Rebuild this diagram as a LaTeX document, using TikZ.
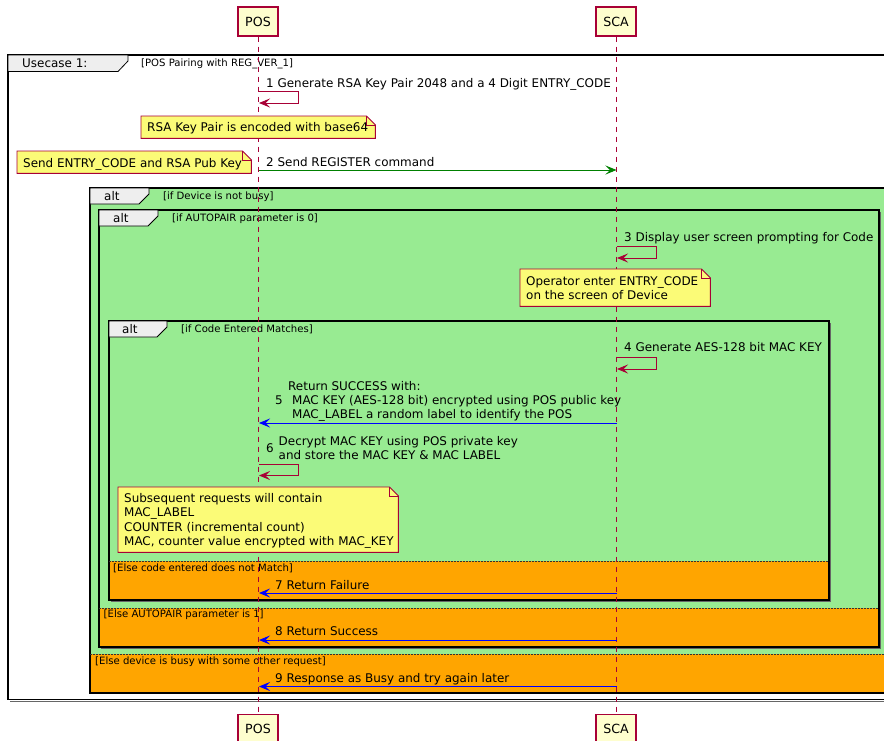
\documentclass[tikz,border=0pt]{standalone}
\usepackage{fontspec}
\setmainfont{DejaVu Sans}
\usetikzlibrary{arrows.meta}
\definecolor{lifered}{HTML}{A80036}
\definecolor{partfill}{HTML}{FEFECE}
\definecolor{notefill}{HTML}{FBFB77}
\definecolor{altgreen}{HTML}{98EB92}
\definecolor{altorange}{HTML}{FFA500}
\definecolor{tabgray}{HTML}{EEEEEE}
\definecolor{msggreen}{HTML}{008000}
\definecolor{msgblue}{HTML}{0000FF}
\newcommand\notefold[1]{%
  \draw[draw=lifered, line width=0.9pt, fill=notefill]
    (#1.north west) -- ([xshift=-9pt]#1.north east) -- ([yshift=-9pt]#1.north east)
    -- (#1.south east) -- (#1.south west) -- cycle;
  \draw[draw=lifered, line width=0.9pt]
    ([xshift=-9pt]#1.north east) -- ([xshift=-9pt,yshift=-9pt]#1.north east) -- ([yshift=-9pt]#1.north east);}
\tikzset{
  msgfont/.style={font=\fontsize{11.95}{14}\selectfont},
  condfont/.style={font=\fontsize{10.1}{12}\selectfont},
  part/.style={draw=lifered, line width=1.2pt, fill=partfill, minimum width=40pt, minimum height=29pt, inner sep=0pt, font=\fontsize{12.6}{15}\selectfont},
  lifeline/.style={draw=lifered, line width=0.9pt, dash pattern=on 5pt off 5pt},
  lbl/.style={msgfont, anchor=base west, inner sep=0pt},
  cond/.style={condfont, anchor=base west, inner sep=0pt},
  tip/.style={-{Stealth[length=11pt, width=9pt, inset=4.5pt]}},
  selfmsg/.style={tip, draw=lifered, line width=0.9pt},
  greenmsg/.style={tip, draw=msggreen, line width=0.9pt},
  bluemsg/.style={tip, draw=msgblue, line width=0.9pt},
  frameline/.style={draw=black, line width=1.6pt},
  shadowline/.style={draw=black!60, line width=1.4pt},
  sepline/.style={draw=black!80, line width=0.9pt, dash pattern=on 1.5pt off 1.5pt},
  tabshape/.style={draw=black, line width=0.8pt, fill=tabgray},
  notetext/.style={msgfont, align=left, inner xsep=6pt, inner ysep=0pt, anchor=north west},
}
\begin{document}
\begin{tikzpicture}[x=1pt, y=-1pt]
\useasboundingbox (0,0) rectangle (884,740);
\clip (0,0) rectangle (884,740);

% ---------------- frames ----------------
% outer usecase frame
\draw[shadowline] (10,701.5) -- (892,701.5);
\draw[frameline, fill=white] (8,55) rectangle (895,699.5);
\draw[tabshape] (8,55) -- (128,55) -- (128,61) -- (118,71.5) -- (8,71.5) -- cycle;
\node[lbl] (uc) at (22,67.5) {Usecase 1:};
\node[cond] (ucc) at (141,66) {[POS Pairing with REG\_VER\_1]};

% alt 1
\fill[altgreen] (90,188) rectangle (895,654);
\fill[altorange] (90,654) rectangle (895,693);
\draw[frameline] (90,188) rectangle (895,693);
\draw[sepline] (90,654) -- (895,654);
% alt 2
\fill[altgreen] (99,210) rectangle (879,608);
\fill[altorange] (99,608) rectangle (879,647);
\draw[shadowline] (880.5,212) -- (880.5,648.5) -- (101,648.5);
\draw[frameline] (99,210) rectangle (879,647);
\draw[sepline] (99,608) -- (879,608);
% alt 3
\fill[altgreen] (109,321) rectangle (829,561);
\fill[altorange] (109,561) rectangle (829,600);
\draw[shadowline] (830.5,323) -- (830.5,601.5) -- (111,601.5);
\draw[frameline] (109,321) rectangle (829,600);
\draw[sepline] (109,561) -- (829,561);

% tabs
\draw[tabshape] (90,188) -- (149,188) -- (149,194) -- (139,204) -- (90,204) -- cycle;
\node[lbl] (a1) at (104,200.5) {alt};
\node[cond] (a1c) at (163,199) {[if Device is not busy]};
\draw[tabshape] (99,210) -- (158,210) -- (158,216) -- (148,226) -- (99,226) -- cycle;
\node[lbl] (a2) at (113,222.5) {alt};
\node[cond] (a2c) at (172,221) {[if AUTOPAIR parameter is 0]};
\draw[tabshape] (109,321) -- (167,321) -- (167,327) -- (157,337) -- (109,337) -- cycle;
\node[lbl] (a3) at (122,333.5) {alt};
\node[cond] (a3c) at (181,332) {[if Code Entered Matches]};
\node[cond] (e3) at (113,571) {[Else code entered does not Match]};
\node[cond] (e2) at (103.5,617.5) {[Else AUTOPAIR parameter is 1]};
\node[cond] (e1) at (95,664) {[Else device is busy with some other request]};

% ---------------- participants & lifelines ----------------
\node[part] (posT) at (258,21.5) {POS};
\node[part] (scaT) at (616,21.5) {SCA};
\node[part] (posB) at (258,729) {POS};
\node[part] (scaB) at (616,729) {SCA};
\draw[lifeline] (posT.south) -- (posB.north);
\draw[lifeline] (scaT.south) -- (scaB.north);

% lifeline anchor points
\coordinate (p1) at (259,91);   \coordinate (p1r) at (259,103);
\coordinate (p2) at (259,170);  \coordinate (s2) at (616.5,170);
\coordinate (s3) at (617,246);  \coordinate (s3r) at (617,258);
\coordinate (s4) at (617,357);  \coordinate (s4r) at (617,369);
\coordinate (s5) at (617,423);  \coordinate (p5) at (259,423);
\coordinate (p6) at (259,464);  \coordinate (p6r) at (259,475.5);
\coordinate (s7) at (617,593);  \coordinate (p7) at (259,593);
\coordinate (s8) at (617,640);  \coordinate (p8) at (259,640);
\coordinate (s9) at (617,686.5);\coordinate (p9) at (259,686.5);

% ---------------- messages ----------------
\node[lbl] (m1) at (266,87.5) {1 Generate RSA Key Pair 2048 and a 4 Digit ENTRY\_CODE};
\draw[selfmsg] (p1) -- ++(39,0) -- ++(0,12) -- (p1r);

\node[lbl] (m2) at (266,166.5) {2 Send REGISTER command};
\draw[greenmsg] (p2) -- (s2);

\node[lbl] (m3) at (624,241) {3 Display user screen prompting for Code};
\draw[selfmsg] (s3) -- ++(39,0) -- ++(0,12) -- (s3r);

\node[lbl] (m4) at (624,351.5) {4 Generate AES-128 bit MAC KEY};
\draw[selfmsg] (s4) -- ++(39,0) -- ++(0,12) -- (s4r);

\node[lbl] (m5a) at (288,390) {Return SUCCESS with:};
\node[lbl] (m5n) at (275,404.5) {5};
\node[lbl] (m5b) at (292,404.5) {MAC KEY (AES-128 bit) encrypted using POS public key};
\node[lbl] (m5c) at (292,418.5) {MAC\_LABEL a random label to identify the POS};
\draw[bluemsg] (s5) -- (p5);

\node[lbl] (m6n) at (266,452) {6};
\node[lbl] (m6a) at (278.5,445.5) {Decrypt MAC KEY using POS private key};
\node[lbl] (m6b) at (278.5,459.5) {and store the MAC KEY \& MAC LABEL};
\draw[selfmsg] (p6) -- ++(39,0) -- ++(0,11.5) -- (p6r);

\node[lbl] (m7) at (275,589) {7 Return Failure};
\draw[bluemsg] (s7) -- (p7);
\node[lbl] (m8) at (275,635.5) {8 Return Success};
\draw[bluemsg] (s8) -- (p8);
\node[lbl] (m9) at (275,682) {9 Response as Busy and try again later};
\draw[bluemsg] (s9) -- (p9);

% ---------------- notes ----------------
\node[notetext, minimum width=234pt, minimum height=22pt, text width=222pt] (n1) at (141,116) {};
\notefold{n1}
\node[lbl] (n1t) at (147,131.5) {RSA Key Pair is encoded with base64};

\node[notetext, minimum width=234pt, minimum height=22pt, text width=222pt] (n2) at (17,151) {};
\notefold{n2}
\node[lbl] (n2t) at (23,167) {Send ENTRY\_CODE and RSA Pub Key};

\node[notetext, minimum width=190pt, minimum height=37pt, text width=178pt] (n3) at (520,269) {};
\notefold{n3}
\node[lbl] (n3a) at (526,285.5) {Operator enter ENTRY\_CODE};
\node[lbl] (n3b) at (526,299.5) {on the screen of Device};

\node[notetext, minimum width=280pt, minimum height=65pt, text width=268pt] (n4) at (118,487) {};
\notefold{n4}
\node[lbl] (n4a) at (124,502.5) {Subsequent requests will contain};
\node[lbl] (n4b) at (124,516.8) {MAC\_LABEL};
\node[lbl] (n4c) at (124,531.1) {COUNTER (incremental count)};
\node[lbl] (n4d) at (124,545.4) {MAC, counter value encrypted with MAC\_KEY};
\end{tikzpicture}
\end{document}
